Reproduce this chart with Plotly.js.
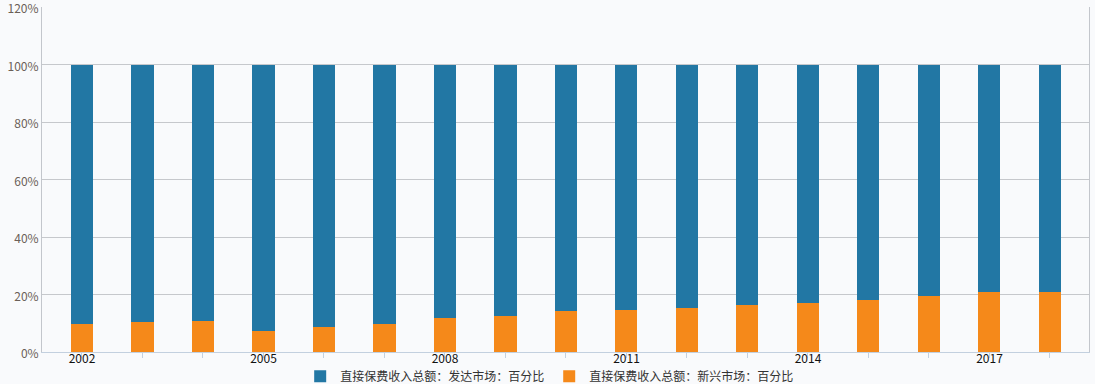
<!DOCTYPE html>
<html>
<head>
<meta charset="utf-8">
<script src="https://cdn.plot.ly/plotly-3.0.1.min.js"></script>
<style>html,body{margin:0;padding:0;background:#f9fafc;}#chart{width:1095px;height:384px;}</style>
</head>
<body>
<div id="chart"></div>
<script>
const years = [2002,2003,2004,2005,2006,2007,2008,2009,2010,2011,2012,2013,2014,2015,2016,2017,2018];
const developed = [90.1,89.5,89.2,92.7,91.3,90.1,88.2,87.4,85.7,85.4,84.7,83.6,82.9,81.9,80.4,79.1,79.1];
const emerging  = [9.9,10.5,10.8,7.3,8.7,9.9,11.8,12.6,14.3,14.6,15.3,16.4,17.1,18.1,19.6,20.9,20.9];
const seriesNames = ['直接保费收入总额：发达市场：百分比','直接保费收入总额：新兴市场：百分比'];
const tickLabels = years.map((y,i)=> i%3===0 ? String(y) : '');
const yTicks = [0,20,40,60,80,100,120];
const yTickText = yTicks.map(v => v + '%');

const font = 'Noto Sans CJK SC, Noto Sans, sans-serif';
const data = [
  {type:'bar', x:years, y:emerging, name:seriesNames[1], marker:{color:'#f5891a'}, width:0.364},
  {type:'bar', x:years, y:developed, name:seriesNames[0], marker:{color:'#2277a4'}, width:0.364}
];
const layout = {
  width:1095, height:384,
  barmode:'stack',
  paper_bgcolor:'#f9fafc', plot_bgcolor:'#f9fafc',
  margin:{l:42, r:6, t:7, b:32, autoexpand:false},
  font:{family:font, size:12, color:'#333'},
  xaxis:{
    range:[2001.339, 2018.645], tickvals:years, ticktext:tickLabels,
    ticks:'outside', ticklen:5, tickcolor:'#c3d0df', showgrid:false,
    showline:true, linecolor:'#c3d0df', linewidth:1, ticklabelstandoff:-9,
    tickfont:{size:12, color:'#111'}, zeroline:false, automargin:false
  },
  yaxis:{
    range:[0,120], tickvals:yTicks, ticktext:yTickText, showgrid:true, gridcolor:'#c6c8cc',
    showline:true, linecolor:'#c3c6cc', mirror:true, zeroline:false, ticklabeloverflow:'allow',
    ticklabelshift:2,
    tickfont:{size:12, color:'#6b5f58'}, ticks:'', automargin:false
  },
  showlegend:true,
  legend:{orientation:'h', x:0.502, xanchor:'center', xref:'container', y:0.02, yanchor:'middle', yref:'container',
    traceorder:'reversed', font:{size:12, color:'#333'}, itemwidth:30, bgcolor:'rgba(0,0,0,0)'}
};
Plotly.newPlot('chart', data, layout, {displayModeBar:false, staticPlot:true});
</script>
</body>
</html>
